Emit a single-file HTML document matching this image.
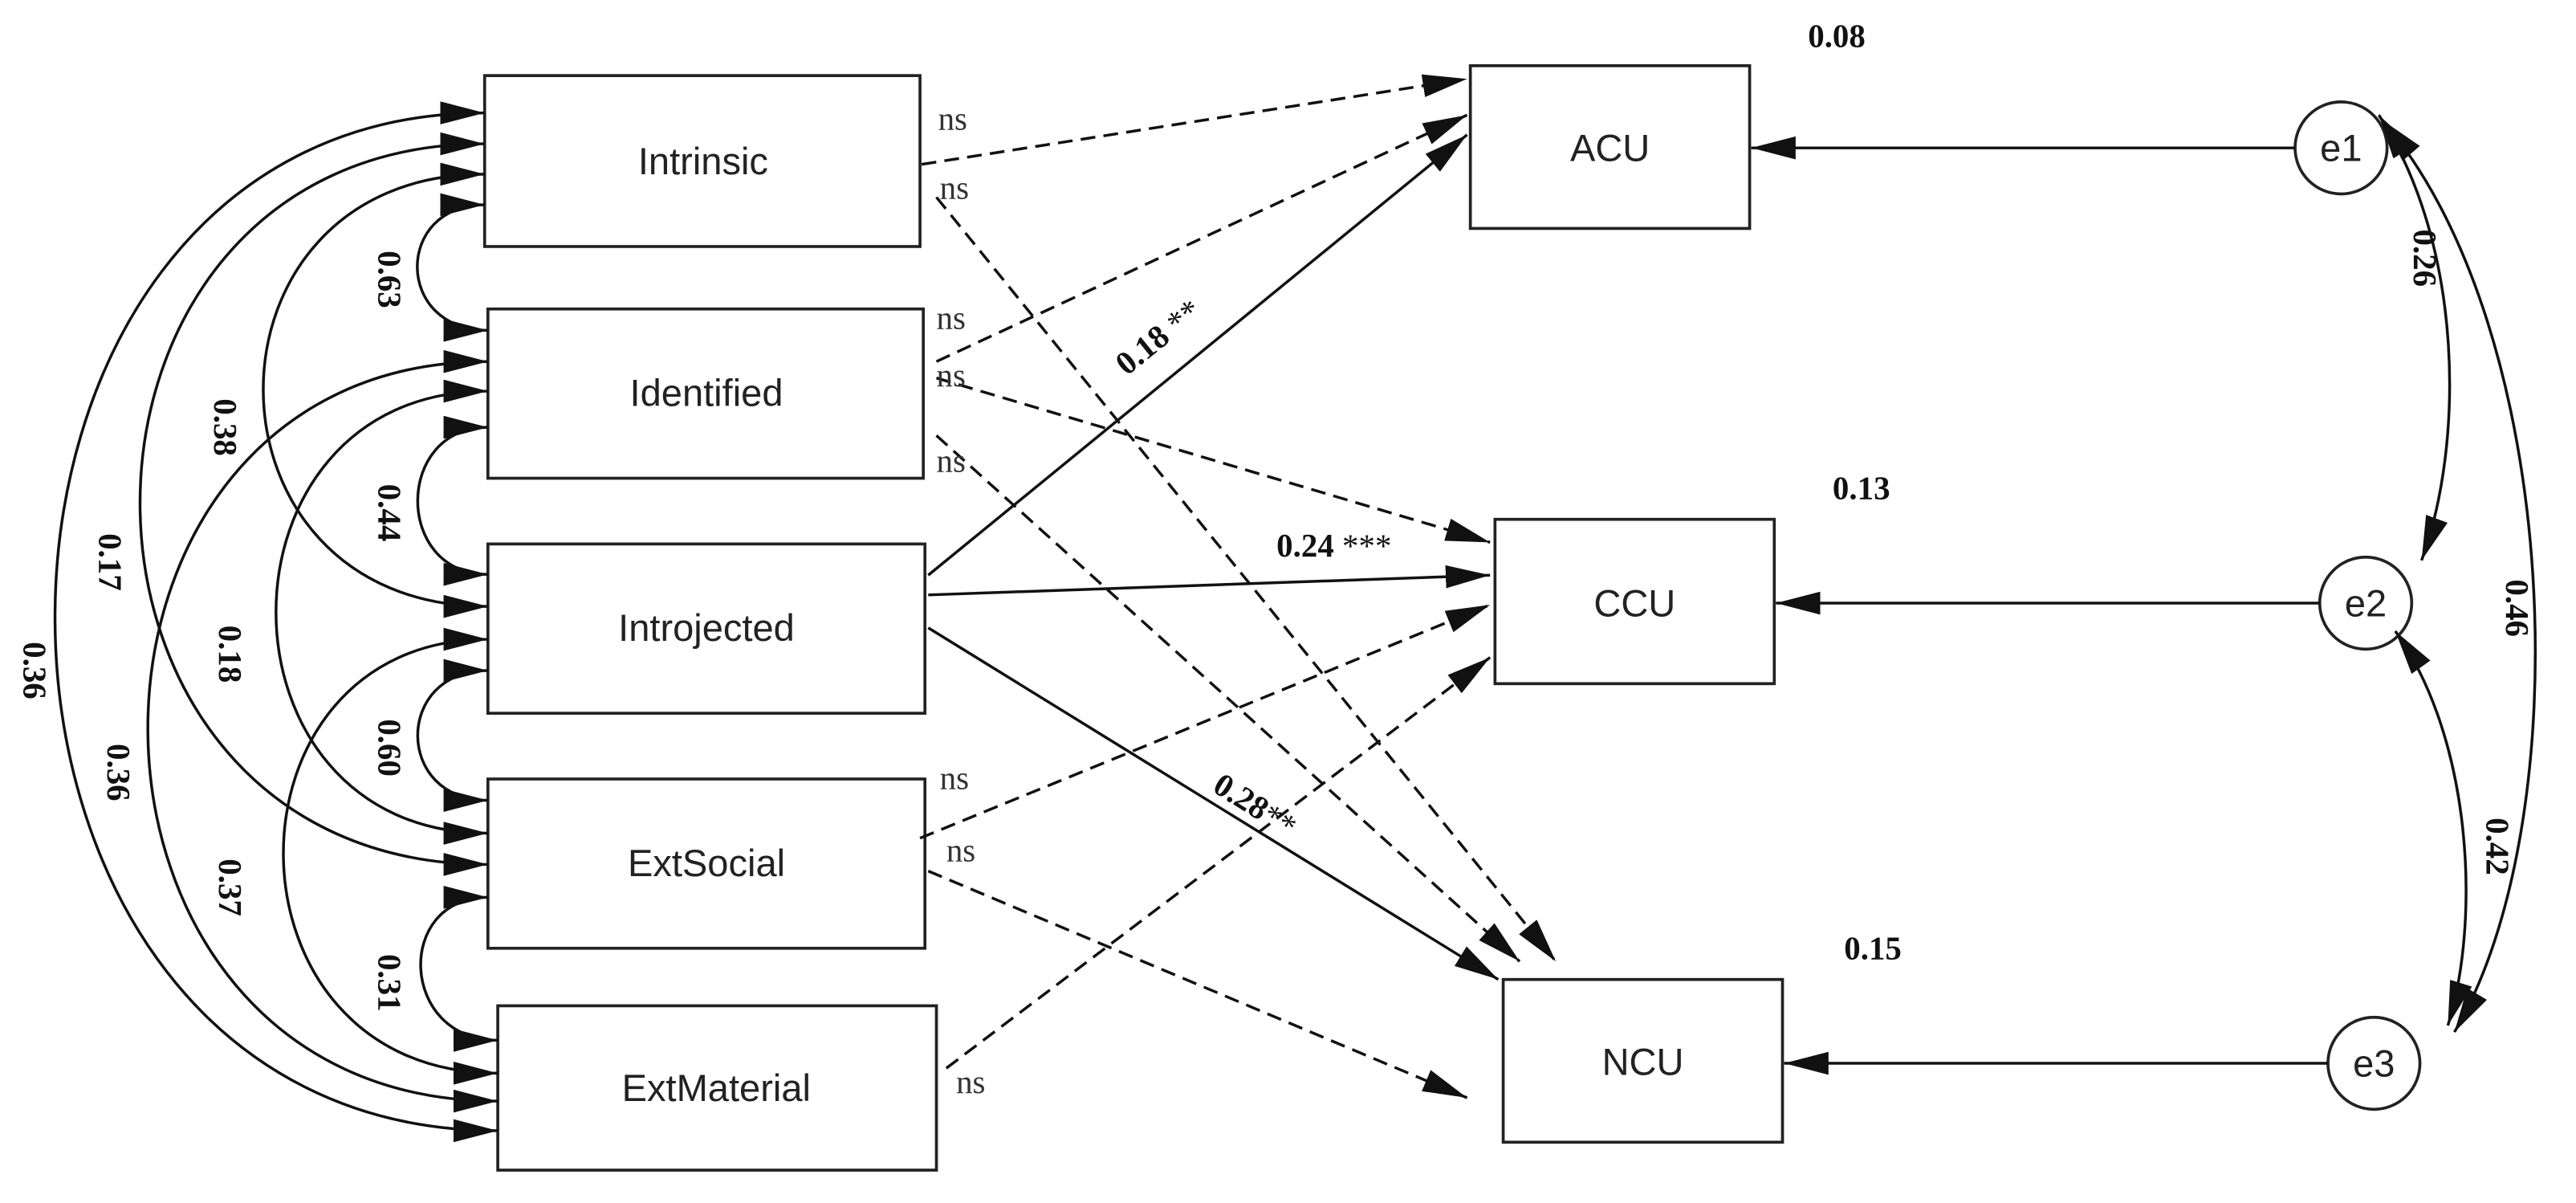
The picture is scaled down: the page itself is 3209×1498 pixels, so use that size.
<!DOCTYPE html>
<html><head><meta charset="utf-8"><style>
html,body{margin:0;padding:0;background:#fff;}
svg{display:block;}
.box{fill:#fff;stroke:#222;stroke-width:1.8;}
.l{fill:none;stroke:#111;stroke-width:1.7;}
.d{fill:none;stroke:#111;stroke-width:1.7;stroke-dasharray:9 5;}
.bl{font-family:"Liberation Sans",sans-serif;font-size:23px;fill:#222;text-anchor:middle;}
.n{font-family:"Liberation Serif",serif;font-size:20px;font-weight:bold;fill:#111;text-anchor:middle;dominant-baseline:central;}
.ns{font-family:"Liberation Serif",serif;font-size:20px;fill:#333;}
</style></head><body>
<svg width="3209" height="1498" viewBox="0 0 1568 732" preserveAspectRatio="none" xmlns="http://www.w3.org/2000/svg">
<defs>
<marker id="a" markerUnits="userSpaceOnUse" markerWidth="30" markerHeight="16" refX="27" refY="7" orient="auto-start-reverse">
<path d="M0,0 L27,7 L0,14 Z" fill="#111"/>
</marker>
</defs>
<rect class="box" x="295" y="46" width="265" height="104"/>
<rect class="box" x="297" y="188" width="265" height="103"/>
<rect class="box" x="297" y="331" width="266" height="103"/>
<rect class="box" x="297" y="474" width="266" height="103"/>
<rect class="box" x="303" y="612" width="267" height="100"/>
<text class="bl" x="428" y="106">Intrinsic</text>
<text class="bl" x="430" y="247">Identified</text>
<text class="bl" x="430" y="390">Introjected</text>
<text class="bl" x="430" y="533">ExtSocial</text>
<text class="bl" x="436" y="670">ExtMaterial</text>

<rect class="box" x="895" y="40" width="170" height="99"/>
<rect class="box" x="910" y="316" width="170" height="100"/>
<rect class="box" x="915" y="596" width="170" height="99"/>
<text class="bl" x="980" y="98">ACU</text>
<text class="bl" x="995" y="375">CCU</text>
<text class="bl" x="1000" y="654">NCU</text>
<text class="n" x="1118" y="22">0.08</text>
<text class="n" x="1133" y="297">0.13</text>
<text class="n" x="1140" y="577">0.15</text>

<circle class="box" cx="1425" cy="90" r="28"/>
<circle class="box" cx="1440" cy="367" r="28"/>
<circle class="box" cx="1445" cy="647" r="28"/>
<text class="bl" x="1425" y="98">e1</text>
<text class="bl" x="1440" y="375">e2</text>
<text class="bl" x="1445" y="655">e3</text>

<path class="l" d="M1397,90 L1066,90" marker-end="url(#a)"/>
<path class="l" d="M1412,367 L1081,367" marker-end="url(#a)"/>
<path class="l" d="M1417,647 L1086,647" marker-end="url(#a)"/>
<path class="l" d="M1448,70 C1500,150 1500,270 1474,341" marker-start="url(#a)" marker-end="url(#a)"/>
<path class="l" d="M1458,384 C1505,450 1510,560 1490,624" marker-start="url(#a)" marker-end="url(#a)"/>
<path class="l" d="M1450,73 C1560,200 1570,500 1494,628" marker-start="url(#a)" marker-end="url(#a)"/>
<text class="n" transform="translate(1476,157) rotate(90)">0.26</text>
<text class="n" transform="translate(1532,370) rotate(90)">0.46</text>
<text class="n" transform="translate(1520,515) rotate(90)">0.42</text>

<path class="d" d="M561,100 L893,48" marker-end="url(#a)"/>
<path class="d" d="M570,120 L947,585" marker-end="url(#a)"/>
<path class="d" d="M570,220 L893,70" marker-end="url(#a)"/>
<path class="d" d="M570,230 L907,330" marker-end="url(#a)"/>
<path class="d" d="M570,265 L925,585" marker-end="url(#a)"/>
<path class="l" d="M565,350 L893,82" marker-end="url(#a)"/>
<path class="l" d="M565,362 L907,350" marker-end="url(#a)"/>
<path class="l" d="M565,382 L912,596" marker-end="url(#a)"/>
<path class="d" d="M560,510 L907,368" marker-end="url(#a)"/>
<path class="d" d="M565,530 L893,668" marker-end="url(#a)"/>
<path class="d" d="M576,650 L907,400" marker-end="url(#a)"/>
<text class="ns" x="571" y="79">ns</text>
<text class="ns" x="572" y="121">ns</text>
<text class="ns" x="570" y="200">ns</text>
<text class="ns" x="570" y="235">ns</text>
<text class="ns" x="570" y="287">ns</text>
<text class="ns" x="572" y="480">ns</text>
<text class="ns" x="576" y="524">ns</text>
<text class="ns" x="582" y="665">ns</text>
<text class="n" transform="translate(705,205) rotate(-39)">0.18 <tspan font-weight="normal">**</tspan></text>
<text class="n" x="812" y="332">0.24 <tspan font-weight="normal">***</tspan></text>
<text class="n" transform="translate(764,490) rotate(32)">0.28<tspan font-weight="normal">**</tspan></text>

<path class="l" d="M295,124.6 C240,124.6 240,201 297,201" marker-start="url(#a)" marker-end="url(#a)"/>
<path class="l" d="M297,260 C240,260 240,349.5 297,349.5" marker-start="url(#a)" marker-end="url(#a)"/>
<path class="l" d="M297,408 C240,408 240,487 297,487" marker-start="url(#a)" marker-end="url(#a)"/>
<path class="l" d="M297,546 C240,546 243,633 303,633" marker-start="url(#a)" marker-end="url(#a)"/>
<path class="l" d="M295,106 C115,106 115,369 297,369" marker-start="url(#a)" marker-end="url(#a)"/>
<path class="l" d="M297,238 C125,238 125,507 297,507" marker-start="url(#a)" marker-end="url(#a)"/>
<path class="l" d="M297,389 C130,389 130,653 303,653" marker-start="url(#a)" marker-end="url(#a)"/>
<path class="l" d="M295,87.5 C15,87.5 15,526 297,526" marker-start="url(#a)" marker-end="url(#a)"/>
<path class="l" d="M297,220 C20,220 20,670 303,670" marker-start="url(#a)" marker-end="url(#a)"/>
<path class="l" d="M295,68.7 C-55,68.7 -55,688 303,688" marker-start="url(#a)" marker-end="url(#a)"/>
<text class="n" transform="translate(237,170) rotate(90)">0.63</text>
<text class="n" transform="translate(237,312) rotate(90)">0.44</text>
<text class="n" transform="translate(237,455) rotate(90)">0.60</text>
<text class="n" transform="translate(237,598) rotate(90)">0.31</text>
<text class="n" transform="translate(137,260) rotate(90)">0.38</text>
<text class="n" transform="translate(140,398) rotate(90)">0.18</text>
<text class="n" transform="translate(140,540) rotate(90)">0.37</text>
<text class="n" transform="translate(67,342) rotate(90)">0.17</text>
<text class="n" transform="translate(72,470) rotate(90)">0.36</text>
<text class="n" transform="translate(21,408) rotate(90)">0.36</text>
</svg>
</body></html>
